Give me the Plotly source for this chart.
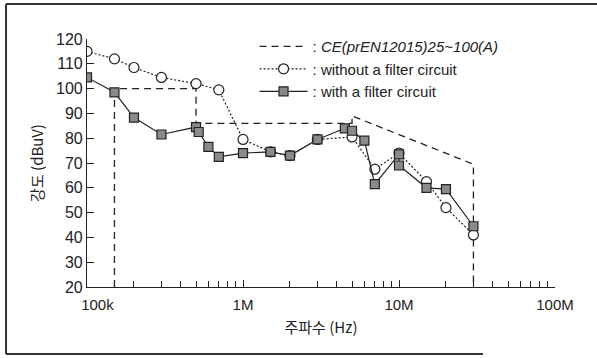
import plotly.graph_objects as go

# Limit line (CE prEN12015 25~100A)
limit_f = [150e3, 150e3, 500e3, 500e3, 5e6, 5e6, 30e6, 30e6]
limit_v = [20, 100, 100, 86, 86, 89, 69.5, 20]

# Without filter circuit
nof_f = [100e3, 150e3, 200e3, 300e3, 500e3, 700e3, 1e6, 1.5e6, 2e6, 3e6, 5e6, 7e6, 10e6, 15e6, 20e6, 30e6]
nof_v = [115, 112, 108.5, 104.5, 102, 99.5, 79.5, 74.5, 73, 79.5, 80.5, 67.5, 74, 62.5, 52, 41]

# With filter circuit
wf_f = [100e3, 150e3, 200e3, 300e3, 500e3, 520e3, 600e3, 700e3, 1e6, 1.5e6, 2e6, 3e6, 4.5e6, 5e6, 6e6, 7e6, 10e6, 10e6, 15e6, 20e6, 30e6]
wf_v = [104.5, 98.5, 88.3, 81.5, 84.5, 82.5, 76.5, 72.5, 74, 74.5, 73, 79.5, 84, 83, 79, 61.5, 73.5, 69, 60, 59.5, 44.5]

x_tickvals = [1e5, 1e6, 1e7, 1e8]
x_ticktext = ["\u00a0" * 5 + "100k", "1M", "10M", "100M"]
y_tickvals = [20, 30, 40, 50, 60, 70, 80, 90, 100, 110, 120]

minor_vals = [m * d for d in (1e5, 1e6, 1e7) for m in range(2, 10)] + [1.5e5]

FONT = "Liberation Sans, Arial, sans-serif"

fig = go.Figure()
fig.add_trace(go.Scatter(
    x=limit_f, y=limit_v, mode="lines",
    name=": <i>CE(prEN12015)25~100(A)</i>",
    line=dict(color="#222", width=1.3, dash="7px,5px"),
))
fig.add_trace(go.Scatter(
    x=nof_f, y=nof_v, mode="lines+markers",
    name=": without a filter circuit",
    line=dict(color="#222", width=1.2, dash="2px,2px"),
    marker=dict(symbol="circle", size=10, color="white", line=dict(color="#222", width=1.2)),
))
fig.add_trace(go.Scatter(
    x=wf_f, y=wf_v, mode="lines+markers",
    name=": with a filter circuit",
    line=dict(color="#222", width=1.2),
    marker=dict(symbol="square", size=9, color="#8a8a8a", line=dict(color="#222", width=1.2)),
))

frame = dict(type="line", xref="paper", yref="paper", line=dict(color="#333", width=2))
shapes = [
    dict(frame, x0=-0.173, x1=-0.173, y0=-0.270, y1=1.141),
    dict(frame, x0=-0.173, x1=1.10, y0=1.141, y1=1.141),
    dict(frame, x0=-0.173, x1=0.846, y0=-0.270, y1=-0.270),
]

fig.update_layout(
    width=597, height=358,
    margin=dict(l=87, r=42, t=39, b=71),
    paper_bgcolor="white", plot_bgcolor="white",
    font=dict(family=FONT, size=15, color="#222"),
    showlegend=True,
    legend=dict(
        x=0.358, y=1.036, xanchor="left", yanchor="top",
        bgcolor="rgba(0,0,0,0)", font=dict(size=15, family=FONT),
        itemwidth=48, tracegroupgap=0,
    ),
    shapes=shapes,
    xaxis=dict(
        type="log", range=[5, 8],
        tickvals=x_tickvals, ticktext=x_ticktext,
        ticks="inside", ticklen=7, tickcolor="#222",
        ticklabelstandoff=4,
        showline=True, linecolor="#222", linewidth=1.2,
        showgrid=False, zeroline=False,
        minor=dict(tickvals=minor_vals, ticks="inside", ticklen=6, tickcolor="#222", showgrid=False),
        title=dict(text="주파수 (Hz)", font=dict(size=15, family="Noto Sans CJK KR, " + FONT), standoff=10),
        tickfont=dict(size=15),
    ),
    yaxis=dict(
        range=[20, 120], tickvals=y_tickvals,
        ticks="inside", ticklen=7, tickcolor="#222",
        showline=True, linecolor="#222", linewidth=1.2,
        showgrid=False, zeroline=False,
        title=dict(text="강도 (dBuV)", font=dict(size=15, family="Noto Sans CJK KR, " + FONT), standoff=8),
        tickfont=dict(size=16),
    ),
)

fig.write_html("out.html")
